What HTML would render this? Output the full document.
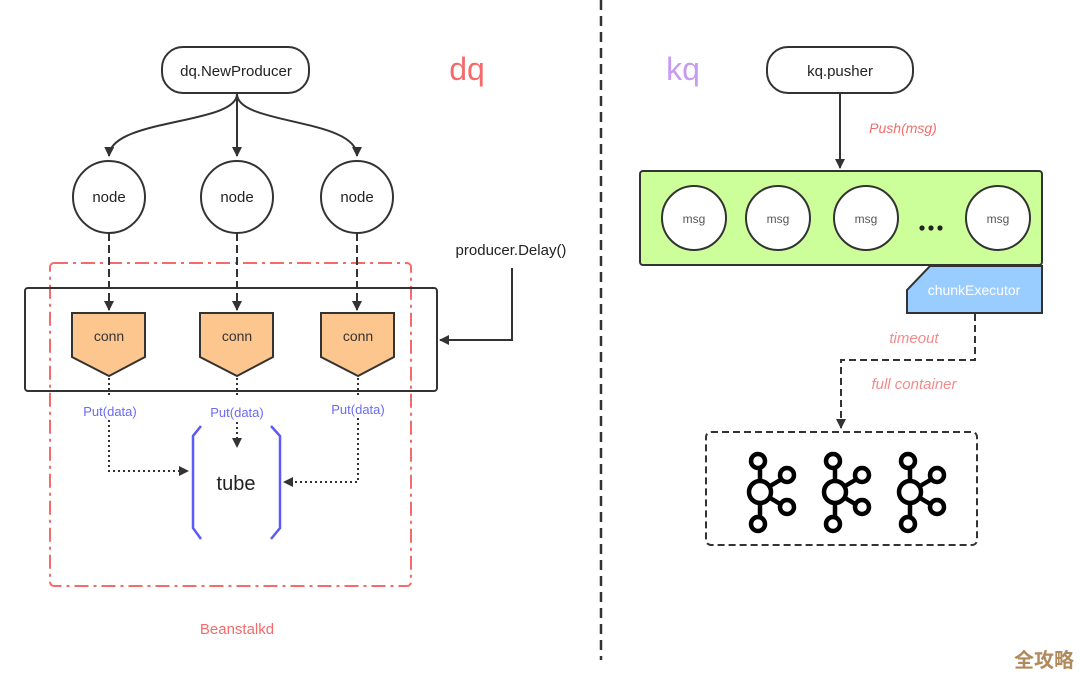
<!DOCTYPE html>
<html><head><meta charset="utf-8"><style>
html,body{margin:0;padding:0;background:#fff;}
svg{display:block;font-family:"Liberation Sans","Noto Sans CJK SC",sans-serif;}
</style></head><body>
<svg width="1080" height="678" viewBox="0 0 1080 678" xmlns="http://www.w3.org/2000/svg">
<defs>
<marker id="a" markerWidth="10" markerHeight="10" refX="9" refY="5" orient="auto" markerUnits="userSpaceOnUse"><path d="M0,0 L10,5 L0,10 z" fill="#333"/></marker>
<g id="k" fill="none" stroke="#000" stroke-width="4.5">
<line x1="0" y1="-26" x2="0" y2="26"/>
<line x1="0" y1="0" x2="27" y2="-16"/>
<line x1="0" y1="0" x2="27" y2="16"/>
<circle cx="0" cy="0" r="11" fill="#fff"/>
<circle cx="-2" cy="-31" r="7" fill="#fff"/>
<circle cx="-2" cy="32" r="7" fill="#fff"/>
<circle cx="27" cy="-17" r="7" fill="#fff"/>
<circle cx="27" cy="15" r="7" fill="#fff"/>
</g>
</defs>

<line x1="601" y1="0" x2="601" y2="660" stroke="#333" stroke-width="2.5" stroke-dasharray="10,6"/>

<rect x="162" y="47" width="147" height="46" rx="21" fill="#fff" stroke="#333" stroke-width="2"/>
<text x="236" y="76" font-size="15" text-anchor="middle" fill="#222">dq.NewProducer</text>
<text x="467" y="80" font-size="32" text-anchor="middle" fill="#f56b6b">dq</text>

<path d="M237,94 C237,125 110,118 109,156" fill="none" stroke="#333" stroke-width="2" marker-end="url(#a)"/>
<line x1="237" y1="94" x2="237" y2="156" stroke="#333" stroke-width="2" marker-end="url(#a)"/>
<path d="M237,94 C237,125 357,118 357,156" fill="none" stroke="#333" stroke-width="2" marker-end="url(#a)"/>

<g fill="#fff" stroke="#333" stroke-width="2">
<circle cx="109" cy="197" r="36"/><circle cx="237" cy="197" r="36"/><circle cx="357" cy="197" r="36"/>
</g>
<g font-size="15" text-anchor="middle" fill="#222">
<text x="109" y="202">node</text><text x="237" y="202">node</text><text x="357" y="202">node</text>
</g>

<rect x="50" y="263" width="361" height="323" rx="4" fill="none" stroke="#f56b6b" stroke-width="2" stroke-dasharray="14,5,3,5"/>
<rect x="25" y="288" width="412" height="103" rx="3" fill="none" stroke="#333" stroke-width="2"/>

<g stroke="#333" stroke-width="2" stroke-dasharray="8,4">
<line x1="109" y1="233" x2="109" y2="310" marker-end="url(#a)"/>
<line x1="237" y1="233" x2="237" y2="310" marker-end="url(#a)"/>
<line x1="357" y1="233" x2="357" y2="310" marker-end="url(#a)"/>
</g>

<g fill="#fdc68f" stroke="#333" stroke-width="2">
<path d="M72,313 H145 V357 L109,376 L72,357 Z"/>
<path d="M200,313 H273 V357 L237,376 L200,357 Z"/>
<path d="M321,313 H394 V357 L358,376 L321,357 Z"/>
</g>
<g font-size="14" text-anchor="middle" fill="#333">
<text x="109" y="341">conn</text><text x="237" y="341">conn</text><text x="358" y="341">conn</text>
</g>

<g fill="none" stroke="#333" stroke-width="2" stroke-dasharray="2,3">
<line x1="109" y1="378" x2="109" y2="398"/>
<line x1="237" y1="378" x2="237" y2="398"/>
<line x1="358" y1="378" x2="358" y2="396"/>
<polyline points="109,420 109,471 188,471" marker-end="url(#a)"/>
<line x1="237" y1="422" x2="237" y2="447" marker-end="url(#a)"/>
<polyline points="358,418 358,482 284,482" marker-end="url(#a)"/>
</g>
<g font-size="13" text-anchor="middle" fill="#6a6af5">
<text x="110" y="416">Put(data)</text><text x="237" y="417">Put(data)</text><text x="358" y="414">Put(data)</text>
</g>

<g fill="none" stroke="#5b5bf5" stroke-width="2.5">
<polyline points="201,426 193,436 193,528 201,539"/>
<polyline points="271,426 280,436 280,528 271,539"/>
</g>
<text x="236" y="490" font-size="20" text-anchor="middle" fill="#222">tube</text>

<text x="511" y="255" font-size="15" text-anchor="middle" fill="#222">producer.Delay()</text>
<polyline points="512,268 512,340 440,340" fill="none" stroke="#333" stroke-width="2" marker-end="url(#a)"/>

<text x="237" y="634" font-size="15" text-anchor="middle" fill="#f56b6b">Beanstalkd</text>

<text x="683" y="80" font-size="32" text-anchor="middle" fill="#c79bf2">kq</text>
<rect x="767" y="47" width="146" height="46" rx="21" fill="#fff" stroke="#333" stroke-width="2"/>
<text x="840" y="76" font-size="15" text-anchor="middle" fill="#222">kq.pusher</text>
<line x1="840" y1="94" x2="840" y2="168" stroke="#333" stroke-width="2" marker-end="url(#a)"/>
<text x="903" y="133" font-size="14" font-style="italic" text-anchor="middle" fill="#f56b6b">Push(msg)</text>

<rect x="640" y="171" width="402" height="94" rx="3" fill="#ccff99" stroke="#333" stroke-width="2"/>
<g fill="#fff" stroke="#333" stroke-width="2">
<circle cx="694" cy="218" r="32"/><circle cx="778" cy="218" r="32"/><circle cx="866" cy="218" r="32"/><circle cx="998" cy="218" r="32"/>
</g>
<g font-size="12" text-anchor="middle" fill="#555">
<text x="694" y="223">msg</text><text x="778" y="223">msg</text><text x="866" y="223">msg</text><text x="998" y="223">msg</text>
</g>
<g fill="#222"><circle cx="922" cy="228" r="2.6"/><circle cx="931" cy="228" r="2.6"/><circle cx="940" cy="228" r="2.6"/></g>

<path d="M930,266 H1042 V313 H907 V290 Z" fill="#99ccff" stroke="#333" stroke-width="2"/>
<text x="974" y="295" font-size="14" text-anchor="middle" fill="#fff">chunkExecutor</text>

<polyline points="975,314 975,360 841,360 841,428" fill="none" stroke="#333" stroke-width="2" stroke-dasharray="7,4" marker-end="url(#a)"/>
<text x="914" y="343" font-size="15" font-style="italic" text-anchor="middle" fill="#f58a8a">timeout</text>
<text x="914" y="389" font-size="15" font-style="italic" text-anchor="middle" fill="#f58a8a">full container</text>

<rect x="706" y="432" width="271" height="113" rx="5" fill="none" stroke="#333" stroke-width="2" stroke-dasharray="7,4"/>
<use href="#k" x="760" y="492"/>
<use href="#k" x="835" y="492"/>
<use href="#k" x="910" y="492"/>

<text x="1044" y="667" font-size="20" font-weight="bold" text-anchor="middle" fill="#b08a5a">全攻略</text>
</svg>
</body></html>
